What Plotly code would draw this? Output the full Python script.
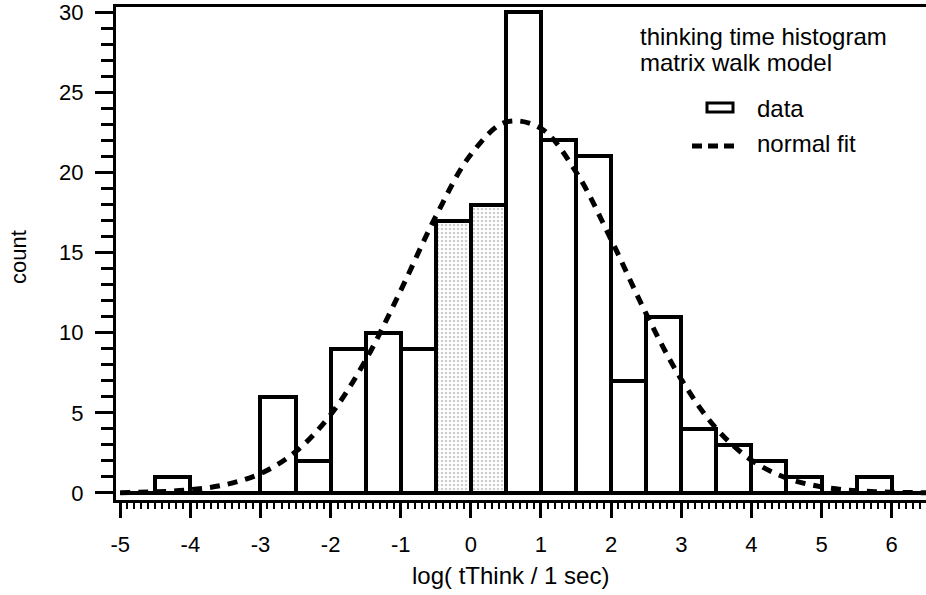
import plotly.graph_objects as go

# histogram bins (centres, width 0.5) and counts
bin_centres = [-4.75, -4.25, -3.75, -3.25, -2.75, -2.25, -1.75, -1.25, -0.75, -0.25,
               0.25, 0.75, 1.25, 1.75, 2.25, 2.75, 3.25, 3.75, 4.25, 4.75,
               5.25, 5.75, 6.25]
counts = [0, 1, 0, 0, 6, 2, 9, 10, 9, 17,
          18, 30, 22, 21, 7, 11, 4, 3, 2, 1,
          0, 1, 0]

# normal fit curve, read at 0.5 steps
fit_x = [-5, -4.5, -4, -3.5, -3, -2.5, -2, -1.5, -1, -0.5, 0, 0.5,
         1, 1.5, 2, 2.5, 3, 3.5, 4, 4.5, 5, 5.5, 6, 6.5]
fit_y = [0.02, 0.07, 0.20, 0.52, 1.21, 2.57, 4.88, 8.29, 12.64, 17.26, 21.12, 23.15,
         22.75, 20.03, 15.81, 11.18, 7.09, 4.02, 2.05, 0.93, 0.38, 0.14, 0.05, 0.01]

x_ticks = [-5, -4, -3, -2, -1, 0, 1, 2, 3, 4, 5, 6]
x_labels = ["-5", "-4", "-3", "-2", "-1", "0", "1", "2", "3", "4", "5", "6"]
y_ticks = [0, 5, 10, 15, 20, 25, 30]
y_labels = ["0", "5", "10", "15", "20", "25", "30"]

FONT = "Liberation Sans, Arial, sans-serif"

# plot area in pixels, used to place the legend bits
L, R, T, B = 116, 926, 7, 500
def px(x):
    return (x - L) / (R - L)
def py(y):
    return (B - y) / (B - T)

# faint grey stipple on the middle bars, like the scanned original
stipple = ["." if c in (-0.25, 0.25) else "" for c in bin_centres]

fig = go.Figure()

fig.add_trace(go.Bar(x=bin_centres, y=counts, width=0.5,
                     marker=dict(color="white", line=dict(color="black", width=4),
                                 pattern=dict(shape=stipple, fgcolor="#9a9a9a",
                                              size=4, solidity=0.3)),
                     showlegend=False))
fig.add_trace(go.Scatter(x=fit_x, y=fit_y, mode="lines",
                         line=dict(color="black", width=5, dash="10px,8px", shape="spline"),
                         showlegend=False))

fig.update_layout(
    width=926, height=595,
    margin=dict(l=L, r=926 - R, t=T, b=595 - B),
    paper_bgcolor="white", plot_bgcolor="white",
    font=dict(family=FONT, size=22, color="black"),
    bargap=0,
    xaxis=dict(range=[-5.06, 6.49], tickvals=x_ticks, ticktext=x_labels,
               ticks="outside", ticklen=15,
               tickwidth=3, tickcolor="black", showline=True, linewidth=3,
               linecolor="black", mirror=True, showgrid=False, zeroline=False,
               ticklabelstandoff=8, ticklabeloverflow="allow",
               minor=dict(dtick=0.1, tick0=0, ticks="outside", ticklen=6,
                          tickwidth=2, tickcolor="black", showgrid=False)),
    xaxis2=dict(range=[-5.06, 6.49], overlaying="x", anchor="y", side="bottom",
                dtick=0.5, tick0=0, ticks="outside", ticklen=11, tickwidth=2,
                tickcolor="black", showticklabels=False, showline=False,
                showgrid=False, zeroline=False),
    yaxis=dict(range=[-0.44, 30.33], tickvals=y_ticks, ticktext=y_labels,
               ticks="outside", ticklen=18,
               tickwidth=3, tickcolor="black", showline=True, linewidth=3,
               linecolor="black", showgrid=False, zeroline=False,
               ticklabelstandoff=7, ticklabeloverflow="allow",
               minor=dict(dtick=1, tick0=0, ticks="outside", ticklen=12,
                          tickwidth=3, tickcolor="black", showgrid=False)),
)

def label(text, x, y, xanchor="center", size=24, angle=0):
    fig.add_annotation(text=text, xref="paper", yref="paper", x=px(x), y=py(y),
                       xanchor=xanchor, yanchor="middle", textangle=angle,
                       showarrow=False, font=dict(size=size))

# axis titles
label("log( tThink / 1 sec)", 510, 575)
label("count", 18, 257, size=22, angle=-90)

# title text and legend
label("thinking time histogram", 638, 37, xanchor="left")
label("matrix walk model", 638, 62, xanchor="left")
label("data", 755, 108, xanchor="left")
label("normal fit", 755, 143, xanchor="left")
fig.add_shape(type="rect", xref="paper", yref="paper",
              x0=px(707), x1=px(733), y0=py(112), y1=py(103),
              line=dict(color="black", width=3), fillcolor="white")
fig.add_shape(type="line", xref="paper", yref="paper",
              x0=px(692), x1=px(734), y0=py(146), y1=py(146),
              line=dict(color="black", width=5, dash="10px,6px"))

fig.write_html("out.html", config={"displayModeBar": False},
               post_script="document.body.style.margin='0';document.body.style.overflow='hidden';")
